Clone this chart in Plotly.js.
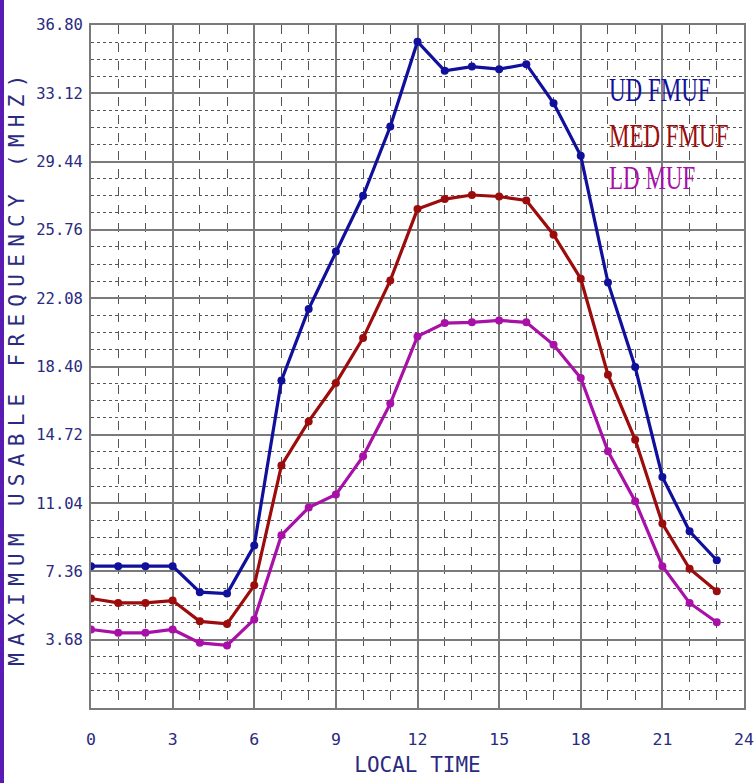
<!DOCTYPE html>
<html>
<head>
<meta charset="utf-8">
<script src="https://cdn.plot.ly/plotly-3.0.1.min.js"></script>
<style>
html,body{margin:0;padding:0;background:#fff;}
#chart{width:755px;height:783px;}
.ytitle{letter-spacing:7.3px;}
.annotation-text{transform-box:fill-box;transform-origin:left center;transform:scale(1.0,1.45);}
</style>
</head>
<body>
<div id="chart"></div>
<script>
const hours = [0,1,2,3,4,5,6,7,8,9,10,11,12,13,14,15,16,17,18,19,20,21,22,23];
const udFmuf = [7.64,7.64,7.64,7.64,6.24,6.17,8.75,17.65,21.5,24.6,27.6,31.33,35.9,34.33,34.56,34.42,34.69,32.59,29.75,22.93,18.37,12.45,9.52,7.96];
const medFmuf = [5.90,5.66,5.66,5.79,4.67,4.53,6.61,13.07,15.44,17.51,19.93,23.04,26.88,27.42,27.64,27.56,27.35,25.5,23.13,17.96,14.46,9.94,7.50,6.29];
const ldMuf = [4.23,4.05,4.05,4.23,3.51,3.37,4.77,9.31,10.8,11.5,13.56,16.40,20.02,20.74,20.78,20.88,20.78,19.57,17.78,13.83,11.14,7.64,5.66,4.62];
const seriesNames = ["UD FMUF","MED FMUF","LD MUF"];
const yTickVals = [3.68,7.36,11.04,14.72,18.40,22.08,25.76,29.44,33.12,36.80];
const yTickText = ["3.68","7.36","11.04","14.72","18.40","22.08","25.76","29.44","33.12","36.80"];
const xTickVals = [0,3,6,9,12,15,18,21,24];

const colors = ["#10109c","#9c0c0c","#a810a8"];
const vals = [udFmuf, medFmuf, ldMuf];
const traces = vals.map((v,i)=>({
  x: hours, y: v, type:'scatter', mode:'lines+markers', name: seriesNames[i],
  line:{color:colors[i], width:3.2}, marker:{color:colors[i], size:8}, showlegend:false
}));

const tickFont = {family:'"DejaVu Sans Mono", monospace', size:15.5, color:'#2a2a80'};
const layout = {
  width:755, height:783,
  margin:{l:91, r:11, t:25, b:75},
  paper_bgcolor:'#ffffff', plot_bgcolor:'#ffffff',
  xaxis:{
    range:[0,24], tickmode:'array', tickvals:xTickVals, ticks:'', ticklabelstandoff:15,
    tickfont:{family:'"DejaVu Sans Mono", monospace', size:16.5, color:'#2a2a80'},
    showgrid:true, gridcolor:'#7a7a7a', gridwidth:2,
    minor:{tickmode:'linear', tick0:0, dtick:1, showgrid:true, gridcolor:'#555555', gridwidth:1, griddash:'dash'},
    showline:true, linecolor:'#7a7a7a', linewidth:2, mirror:true, zeroline:false,
    title:{text:'LOCAL TIME', font:{family:'"DejaVu Sans Mono", monospace', size:21, color:'#2a2a80'}, standoff:10}
  },
  yaxis:{
    range:[0,36.8], tickmode:'array', tickvals:yTickVals, ticktext:yTickText, ticks:'', ticklabelstandoff:3,
    tickfont:tickFont,
    showgrid:true, gridcolor:'#7a7a7a', gridwidth:2,
    minor:{tickmode:'linear', tick0:0, dtick:0.92, showgrid:true, gridcolor:'#555555', gridwidth:1, griddash:'dot'},
    showline:true, linecolor:'#7a7a7a', linewidth:2, mirror:true, zeroline:false,
    title:{text:'MAXIMUM USABLE FREQUENCY (MHZ)', font:{family:'"DejaVu Sans Mono", monospace', size:21, color:'#2a2a80'}, standoff:6}
  },
  annotations:[
    {xref:'x', yref:'y', x:18.95, y:33.3, xanchor:'left', yanchor:'middle', showarrow:false, text:seriesNames[0], font:{family:'"Liberation Serif", serif', size:23, color:colors[0]}},
    {xref:'x', yref:'y', x:18.95, y:30.85, xanchor:'left', yanchor:'middle', showarrow:false, text:seriesNames[1], font:{family:'"Liberation Serif", serif', size:23, color:colors[1]}},
    {xref:'x', yref:'y', x:18.95, y:28.6, xanchor:'left', yanchor:'middle', showarrow:false, text:seriesNames[2], font:{family:'"Liberation Serif", serif', size:23, color:colors[2]}}
  ],
  shapes:[
    {type:'rect', xref:'paper', yref:'paper', x0:-91/653, x1:-87/653, y0:-75/683, y1:1+25/683, fillcolor:'#5a1ab4', line:{width:0}}
  ]
};
Plotly.newPlot('chart', traces, layout, {displayModeBar:false, staticPlot:true});
</script>
</body>
</html>
